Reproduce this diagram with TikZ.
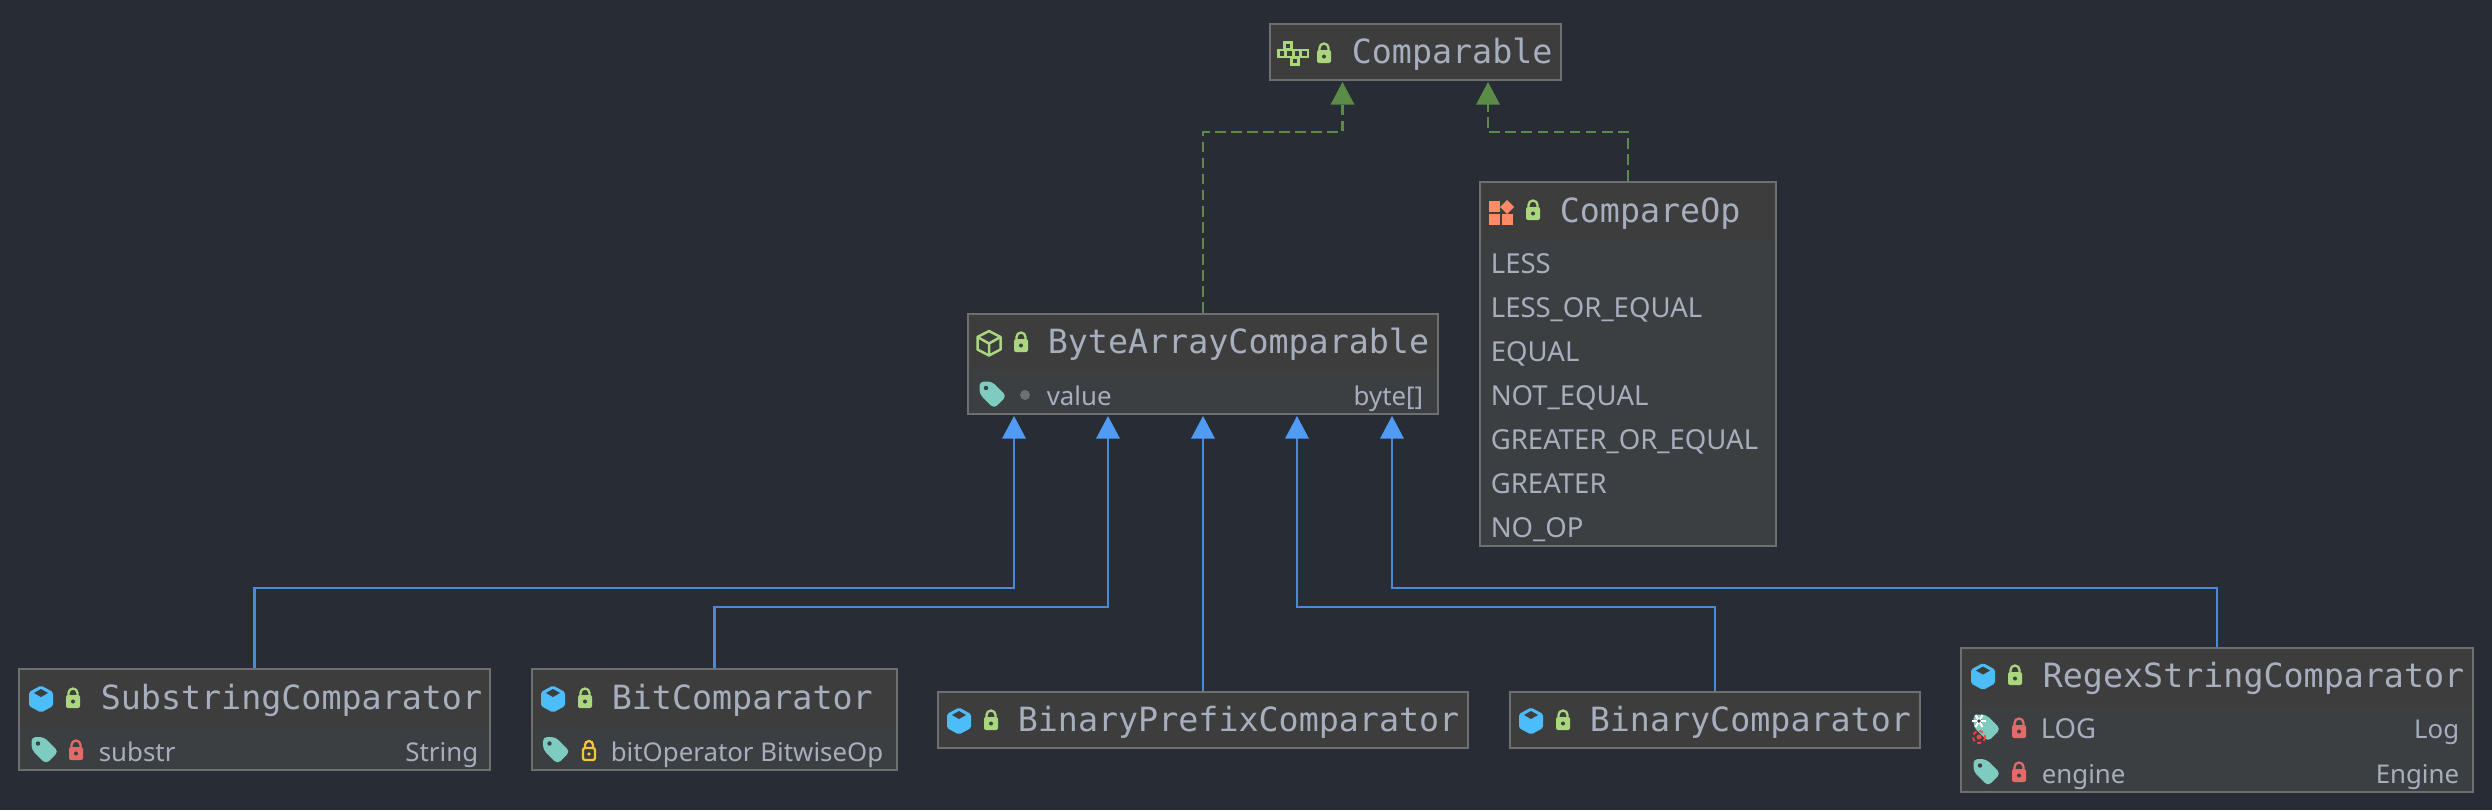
\documentclass[tikz,border=0pt]{standalone}
\usepackage{fontspec}
\usepackage{tikz}
\usetikzlibrary{arrows.meta}

\newfontfamily\titlefont{DejaVu Sans Mono}
\newfontfamily\fieldfont{Noto Sans}

\definecolor{canvas}{HTML}{282C34}
\definecolor{headfill}{HTML}{3D3D3D}
\definecolor{bodyfill}{HTML}{3C3F41}
\definecolor{frame}{HTML}{6F6F6F}
\definecolor{ink}{HTML}{A7AEBD}
\definecolor{extendblue}{HTML}{4A8AD6}
\definecolor{tipblue}{HTML}{4F9BF5}
\definecolor{implgreen}{HTML}{5A8C48}
\definecolor{lockgreen}{HTML}{A9D67F}
\definecolor{lockred}{HTML}{E46A6A}
\definecolor{lockyellow}{HTML}{F8C43C}
\definecolor{classblue}{HTML}{4CBDF9}
\definecolor{tagteal}{HTML}{7ECBC0}
\definecolor{enumorange}{HTML}{FF8A66}

\tikzset{
	classbox/.style={draw=frame, fill=bodyfill, line width=0.6pt, inner sep=0pt, rectangle},
	headbox/.style={fill=headfill, inner sep=0pt, rectangle},
	title/.style={anchor=base west, inner sep=0pt, text=ink, font=\titlefont\fontsize{8.0}{9}\selectfont},
	field/.style={anchor=base west, inner sep=0pt, text=ink, font=\fieldfont\fontsize{6.2}{8}\selectfont},
	ftype/.style={field, anchor=base east},
	constant/.style={field, font=\fieldfont\fontsize{6.6}{8}\selectfont},
	extends/.style={draw=extendblue, line width=0.5pt, -{Triangle[length=5.4pt, width=5.6pt, fill=tipblue, color=tipblue]}},
	implements/.style={draw=implgreen, line width=0.5pt, dash pattern=on 2.6pt off 1.25pt, -{Triangle[length=5.4pt, width=5.6pt]}},
	pics/lockicon/.style={code={
		\draw[#1, line width=0.55pt] (-4.5,-5) -- (-4.5,-8) arc[start angle=180, end angle=360, radius=4.5] -- (4.5,-5);
		\fill[#1, rounded corners=0.5pt] (-7,-6) rectangle (7,7);
		\fill[headfill] (0,0.5) circle[radius=2];
	}},
	pics/holllock/.style={code={
		\draw[#1, line width=0.55pt] (-4,-5) -- (-4,-8) arc[start angle=180, end angle=360, radius=4] -- (4,-5);
		\draw[#1, line width=0.55pt, rounded corners=0.5pt] (-6,-5) rectangle (6,7);
		\fill[#1] (0,1) circle[radius=1.8];
	}},
	pics/classicon/.style={code={
		\fill[classblue, rounded corners=0.4pt] (0,-13.5) -- (12,-7) -- (12,7) -- (0,13.5) -- (-12,7) -- (-12,-7) -- cycle;
		\fill[headfill] (0,-10) -- (7,-6) -- (0,-2) -- (-7,-6) -- cycle;
	}},
	pics/abstracticon/.style={code={
		\draw[lockgreen, line width=0.6pt, line join=round] (0,-12) -- (11.5,-6) -- (11.5,6.5) -- (0,12.5) -- (-11.5,6.5) -- (-11.5,-6) -- cycle;
		\draw[lockgreen, line width=0.6pt, line join=round] (-11.5,-6) -- (0,0.5) -- (11.5,-6) (0,0.5) -- (0,12.5);
	}},
	pics/tagicon/.style={code={
		\fill[tagteal, rounded corners=1pt] (-13.5,-13.5) -- (-1,-13.5) -- (13.5,1) -- (1,13.5) -- (-13.5,-1) -- cycle;
		\fill[#1] (-7,-7) circle[radius=2.2];
	}},
	pics/enumicon/.style={code={
		\fill[enumorange] (-12,-12) rectangle (-1,-1);
		\fill[enumorange] (-12,1) rectangle (-1,12);
		\fill[enumorange] (1,1) rectangle (12,12);
		\fill[enumorange] (6,-13) -- (13,-6) -- (6,1) -- (-1,-6) -- cycle;
	}},
	pics/ifaceicon/.style={code={
		\foreach \cx/\cy in {-5/-7.5, -11/0, -3.5/0, 4/0, 11.5/0, 2/7.5}
			\draw[lockgreen, line width=0.55pt, fill=headfill] (\cx-3.5,\cy-3.5) rectangle (\cx+3.5,\cy+3.5);
	}},
}

\begin{document}
\begin{tikzpicture}[x=0.24pt, y=-0.24pt]
	\useasboundingbox[fill=canvas] (0,0) rectangle (2492,810);

	% boxes
	\node[classbox, minimum width=69.8pt, minimum height=13.4pt] (comparable) at (1415.5,52) {};
	\node[classbox, minimum width=71pt, minimum height=87.4pt] (compareop) at (1628,364) {};
	\node[classbox, minimum width=112.8pt, minimum height=24pt] (bytearray) at (1203,364) {};
	\node[classbox, minimum width=113pt, minimum height=24.2pt] (substring) at (254.5,719.5) {};
	\node[classbox, minimum width=87.6pt, minimum height=24.2pt] (bitcomp) at (714.5,719.5) {};
	\node[classbox, minimum width=127.2pt, minimum height=13.4pt] (binprefix) at (1203,720) {};
	\node[classbox, minimum width=98.4pt, minimum height=13.4pt] (bincomp) at (1715,720) {};
	\node[classbox, minimum width=122.9pt, minimum height=34.6pt] (regex) at (2217,720) {};

	% header bands
	\node[headbox, minimum width=69.2pt, minimum height=12.8pt] (comparablehead) at (comparable) {};
	\node[headbox, minimum width=70.4pt, minimum height=13.9pt] (compareophead) at (1628,212.5) {};
	\node[headbox, minimum width=112.2pt, minimum height=13.4pt] (bytearrayhead) at (1203,343) {};
	\node[headbox, minimum width=112.4pt, minimum height=13.9pt] (substringhead) at (254.5,699) {};
	\node[headbox, minimum width=87pt, minimum height=13.9pt] (bitcomphead) at (714.5,699) {};
	\node[headbox, minimum width=126.6pt, minimum height=12.8pt] (binprefixhead) at (binprefix) {};
	\node[headbox, minimum width=97.8pt, minimum height=12.8pt] (bincomphead) at (bincomp) {};
	\node[headbox, minimum width=122.3pt, minimum height=13.9pt] (regexhead) at (2217,678) {};

	% titles
	\node[title] (comparabletext) at (1351,63) {Comparable};
	\node[title] (compareoptext) at (1559,222) {CompareOp};
	\node[title] (bytearraytext) at (1047,353) {ByteArrayComparable};
	\node[title] (substringtext) at (100,709) {SubstringComparator};
	\node[title] (bitcomptext) at (611,709) {BitComparator};
	\node[title] (binprefixtext) at (1017,731) {BinaryPrefixComparator};
	\node[title] (bincomptext) at (1589,731) {BinaryComparator};
	\node[title] (regextext) at (2042,687) {RegexStringComparator};

	% fields
	\node[constant] (lessname) at (1490,273) {LESS};
	\node[constant] (leqname) at (1490,317) {LESS\_OR\_EQUAL};
	\node[constant] (eqname) at (1490,361) {EQUAL};
	\node[constant] (neqname) at (1490,405) {NOT\_EQUAL};
	\node[constant] (geqname) at (1490,449) {GREATER\_OR\_EQUAL};
	\node[constant] (gtname) at (1490,493) {GREATER};
	\node[constant] (noopname) at (1490,537) {NO\_OP};
	\node[field] (valuename) at (1046,405) {value};
	\node[ftype] (valuetype) at (1424,405) {byte[]};
	\node[field] (substrname) at (98,761) {substr};
	\node[ftype] (substrtype) at (479,761) {String};
	\node[field] (bitopname) at (610,761) {bitOperator};
	\node[ftype] (bitoptype) at (884,761) {BitwiseOp};
	\node[constant] (logname) at (2040,738) {LOG};
	\node[ftype] (logtype) at (2460,738) {Log};
	\node[field] (enginename) at (2041,783) {engine};
	\node[ftype] (enginetype) at (2460,783) {Engine};

	% icons
	\pic at (1293,53.5) {ifaceicon};
	\pic at (1501,213) {enumicon};
	\pic at (989,343) {abstracticon};
	\pic at (41,699) {classicon};
	\pic at (553,699) {classicon};
	\pic at (959,721) {classicon};
	\pic at (1531,721) {classicon};
	\pic at (1983,676.5) {classicon};
	\pic at (1324,56) {lockicon=lockgreen};
	\pic at (1533,213) {lockicon=lockgreen};
	\pic at (1021,345) {lockicon=lockgreen};
	\pic at (73,701) {lockicon=lockgreen};
	\pic at (585,701) {lockicon=lockgreen};
	\pic at (991,723) {lockicon=lockgreen};
	\pic at (1563,723) {lockicon=lockgreen};
	\pic at (2015,678) {lockicon=lockgreen};
	\pic at (76,753) {lockicon=lockred};
	\pic at (589,753) {holllock=lockyellow};
	\pic at (2019,731) {lockicon=lockred};
	\pic at (2019,775) {lockicon=lockred};
	\pic at (993,395) {tagicon=bodyfill};
	\pic at (45,750.5) {tagicon=bodyfill};
	\pic at (556.5,750.5) {tagicon=bodyfill};
	\pic at (1987,728) {tagicon=bodyfill};
	\pic at (1987,772.5) {tagicon=bodyfill};
	\fill[frame] (1025,395) circle[radius=5];
	\foreach \ang in {0,60,120}
		\draw[white, line width=0.5pt] (1979,721) +(\ang:7) -- +(\ang+180:7);
	\fill[headfill] (1979,721) circle[radius=1.8];
	\draw[red!75!white, line width=0.4pt, dash pattern=on 1pt off 0.7pt] (1979,737) circle[radius=6];
	\fill[red!75!white] (1979,737) circle[radius=2.5];

	% arrow ends
	\coordinate (byte1) at (1014,416);
	\coordinate (byte2) at (1108,416);
	\coordinate (byte3) at (1203,416);
	\coordinate (byte4) at (1297,416);
	\coordinate (byte5) at (1392,416);
	\coordinate (comp1) at (1342.5,82);
	\coordinate (comp2) at (1488,82);

	% elbows
	\coordinate (bend1) at (1014,588);
	\coordinate (bend2) at (1108,607);
	\coordinate (bend4) at (1297,607);
	\coordinate (bend5) at (1392,588);
	\coordinate (bend6) at (1342.5,132);
	\coordinate (bend7) at (1488,132);

	\draw[extends] (substring.north) |- (bend1) -- (byte1);
	\draw[extends] (bitcomp.north) |- (bend2) -- (byte2);
	\draw[extends] (binprefix.north) -- (byte3);
	\draw[extends] (bincomp.north) |- (bend4) -- (byte4);
	\draw[extends] (regex.north) |- (bend5) -- (byte5);
	\draw[implements] (bytearray.north) |- (bend6) -- (comp1);
	\draw[implements] (compareop.north) |- (bend7) -- (comp2);
\end{tikzpicture}
\end{document}
